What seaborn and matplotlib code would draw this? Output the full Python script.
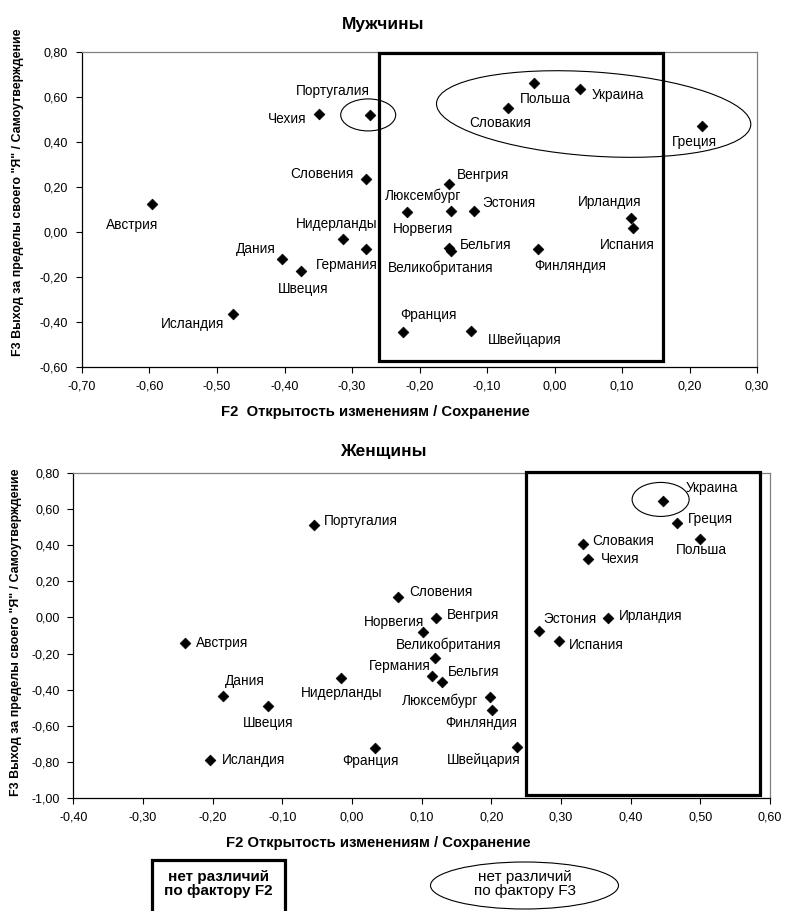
import matplotlib
matplotlib.use("Agg")
import matplotlib.pyplot as plt
import seaborn as sns
import pandas as pd
from matplotlib.patches import Ellipse, Rectangle
from matplotlib.transforms import ScaledTranslation
from matplotlib.ticker import FuncFormatter, MultipleLocator

# --- ДАННЫЕ ---
countries = ["Австрия", "Бельгия", "Великобритания", "Венгрия", "Германия", "Греция",
             "Дания", "Ирландия", "Исландия", "Испания", "Люксембург", "Нидерланды",
             "Норвегия", "Польша", "Португалия", "Словакия", "Словения", "Украина",
             "Финляндия", "Франция", "Чехия", "Швейцария", "Швеция", "Эстония"]

men_f2 = [-0.596, -0.157, -0.153, -0.157, -0.279, 0.218, -0.404, 0.113, -0.477, 0.117,
          -0.153, -0.313, -0.219, -0.030, -0.274, -0.069, -0.279, 0.038, -0.024, -0.225,
          -0.349, -0.124, -0.376, -0.120]
men_f3 = [0.122, -0.074, -0.084, 0.213, -0.078, 0.470, -0.123, 0.062, -0.366, 0.015,
          0.091, -0.032, 0.088, 0.662, 0.520, 0.551, 0.236, 0.633, -0.078, -0.447,
          0.522, -0.441, -0.173, 0.090]

women_f2 = [-0.239, 0.129, 0.119, 0.121, 0.115, 0.467, -0.185, 0.368, -0.204, 0.297,
            0.198, -0.016, 0.102, 0.499, -0.055, 0.332, 0.066, 0.447, 0.201, 0.033,
            0.339, 0.237, -0.120, 0.268]
women_f3 = [-0.144, -0.360, -0.223, -0.005, -0.323, 0.522, -0.438, -0.005, -0.791, -0.129,
            -0.440, -0.334, -0.081, 0.435, 0.511, 0.406, 0.115, 0.647, -0.514, -0.724,
            0.325, -0.721, -0.490, -0.074]

# --- ПОЛОЖЕНИЕ ПОДПИСЕЙ (пиксели от точки) ---
men_offsets = {
    "Австрия": (-20, -21, "center"), "Бельгия": (11, 3, "left"),
    "Великобритания": (-11, -17, "center"), "Венгрия": (8, 9, "left"),
    "Германия": (-19, -16, "center"), "Греция": (-7, -16, "center"),
    "Дания": (-26, 10, "center"), "Ирландия": (-21, 16, "center"),
    "Исландия": (-8, -10, "right"), "Испания": (-6, -17, "center"),
    "Люксембург": (-28, 15, "center"), "Нидерланды": (-7, 15, "center"),
    "Норвегия": (16, -17, "center"), "Польша": (11, -16, "center"),
    "Португалия": (-37, 24, "center"), "Словакия": (-8, -15, "center"),
    "Словения": (-13, 5, "right"), "Украина": (11, -6, "left"),
    "Финляндия": (32, -17, "center"), "Франция": (26, 17, "center"),
    "Чехия": (-12, -5, "right"), "Швейцария": (54, -9, "center"),
    "Швеция": (2, -18, "center"), "Эстония": (9, 8, "left"),
}
women_offsets = {
    "Австрия": (11, 0, "left"), "Бельгия": (6, 10, "left"),
    "Великобритания": (14, 13, "center"), "Венгрия": (11, 3, "left"),
    "Германия": (-1, 10, "right"), "Греция": (11, 4, "left"),
    "Дания": (22, 15, "center"), "Ирландия": (11, 2, "left"),
    "Исландия": (12, 0, "left"), "Испания": (10, -4, "left"),
    "Люксембург": (-12, -4, "right"), "Нидерланды": (1, -15, "center"),
    "Норвегия": (1, 10, "right"), "Польша": (2, -11, "center"),
    "Португалия": (10, 4, "left"), "Словакия": (9, 3, "left"),
    "Словения": (11, 5, "left"), "Украина": (22, 13, "left"),
    "Финляндия": (-11, -13, "center"), "Франция": (-4, -13, "center"),
    "Чехия": (13, 0, "left"), "Швейцария": (-33, -13, "center"),
    "Швеция": (0, -17, "center"), "Эстония": (31, 12, "center"),
}

df_m = pd.DataFrame({"Страна": countries, "F2": men_f2, "F3": men_f3})
df_w = pd.DataFrame({"Страна": countries, "F2": women_f2, "F3": women_f3})

# --- ОФОРМЛЕНИЕ ---
sns.set_theme(style="white")
plt.rcParams['font.family'] = ['Liberation Sans', 'DejaVu Sans']
plt.rcParams['text.color'] = 'black'
plt.rcParams['xtick.color'] = 'black'
plt.rcParams['ytick.color'] = 'black'

W, H = 785, 911
fig = plt.figure(figsize=(W / 100, H / 100), dpi=100)


def fx(px):
    return px / W


def fy(py):
    return 1 - py / H


comma = FuncFormatter(lambda v, p: f"{v:.2f}".replace(".", ","))


def setup_axes(ax, xlim, ylim, xstep, ystep):
    ax.set_xlim(*xlim)
    ax.set_ylim(*ylim)
    ax.xaxis.set_major_locator(MultipleLocator(xstep))
    ax.yaxis.set_major_locator(MultipleLocator(ystep))
    ax.xaxis.set_major_formatter(comma)
    ax.yaxis.set_major_formatter(comma)
    ax.tick_params(axis="both", direction="out", length=4, width=0.8,
                   labelsize=9, colors="black", bottom=True, left=True)
    ax.tick_params(axis="x", pad=6)
    ax.tick_params(axis="y", pad=6)
    ax.set_xlabel("")
    ax.set_ylabel("")
    for s in ["left", "bottom"]:
        ax.spines[s].set_color("black")
        ax.spines[s].set_linewidth(0.9)
    for s in ["top", "right"]:
        ax.spines[s].set_color("#808080")
        ax.spines[s].set_linewidth(0.9)


def draw_points(ax, df, offsets):
    sns.scatterplot(data=df, x="F2", y="F3", marker="D", s=30, color="black",
                    edgecolor="black", linewidth=0.5, ax=ax, zorder=5)
    for _, r in df.iterrows():
        dx, dy, ha = offsets[r["Страна"]]
        ax.annotate(r["Страна"], (r["F2"], r["F3"]), xytext=(dx, dy),
                    textcoords="offset pixels", ha=ha, va="center", fontsize=9.8)


def pix_ellipse(ax, cx, cy, w, h, angle=0):
    e = Ellipse((0, 0), w, h, angle=angle, fill=False, edgecolor="black",
                linewidth=0.8, transform=ScaledTranslation(cx, cy, ax.transData),
                clip_on=False, zorder=4)
    ax.add_artist(e)


# --- МУЖЧИНЫ ---
ax1 = fig.add_axes([fx(82), fy(366.7), fx(757) - fx(82), fy(51.7) - fy(366.7)])
draw_points(ax1, df_m, men_offsets)
setup_axes(ax1, (-0.70, 0.30), (-0.60, 0.80), 0.1, 0.2)
ax1.add_patch(Rectangle((-0.26, -0.575), 0.42, 1.37, fill=False, edgecolor="black",
                        linewidth=2.3, clip_on=False, zorder=3))
pix_ellipse(ax1, 0.058, 0.523, 315, 84, angle=-4)
pix_ellipse(ax1, -0.276, 0.519, 55, 32)

# --- ЖЕНЩИНЫ ---
ax2 = fig.add_axes([fx(73.3), fy(797.7), fx(770) - fx(73.3), fy(473.3) - fy(797.7)])
draw_points(ax2, df_w, women_offsets)
setup_axes(ax2, (-0.40, 0.60), (-1.00, 0.80), 0.1, 0.2)
ax2.add_patch(Rectangle((0.25, -0.985), 0.336, 1.79, fill=False, edgecolor="black",
                        linewidth=2.3, clip_on=False, zorder=3))
pix_ellipse(ax2, 0.443, 0.655, 57, 34)

# --- ЗАГОЛОВКИ И ПОДПИСИ ОСЕЙ ---
fig.text(fx(383.5), fy(24), "Мужчины", ha="center", va="center", fontsize=12.5, fontweight="bold")
fig.text(fx(383.5), fy(451.7), "Женщины", ha="center", va="center", fontsize=12.5, fontweight="bold")
fig.text(fx(375), fy(411.7), "F2  Открытость изменениям / Сохранение", ha="center", va="center",
         fontsize=10.7, fontweight="bold")
fig.text(fx(378), fy(843.3), "F2 Открытость изменениям / Сохранение", ha="center", va="center",
         fontsize=10.7, fontweight="bold")
ylab = 'F3 Выход за пределы своего "Я" / Самоутверждение'
fig.text(fx(18), fy(192), ylab, rotation=90, ha="center", va="center", fontsize=8.9, fontweight="bold")
fig.text(fx(16), fy(632), ylab, rotation=90, ha="center", va="center", fontsize=8.9, fontweight="bold")

# --- ЛЕГЕНДА ВНИЗУ ---
fig.add_artist(Rectangle((fx(152), fy(925)), fx(285) - fx(152), fy(860) - fy(925), fill=False,
                         edgecolor="black", linewidth=2.3, transform=fig.transFigure))
fig.text(fx(218.5), fy(884), "нет различий\nпо фактору F2", ha="center", va="center",
         fontsize=11, fontweight="bold", linespacing=0.98)
fig.add_artist(Ellipse((fx(524.5), fy(885.5)), fx(188), 47 / H, fill=False, edgecolor="black",
                       linewidth=0.8, transform=fig.transFigure))
fig.text(fx(524.5), fy(884), "нет различий\nпо фактору F3", ha="center", va="center",
         fontsize=11, linespacing=0.98)

fig.savefig("out.png", dpi=100, facecolor="white")
